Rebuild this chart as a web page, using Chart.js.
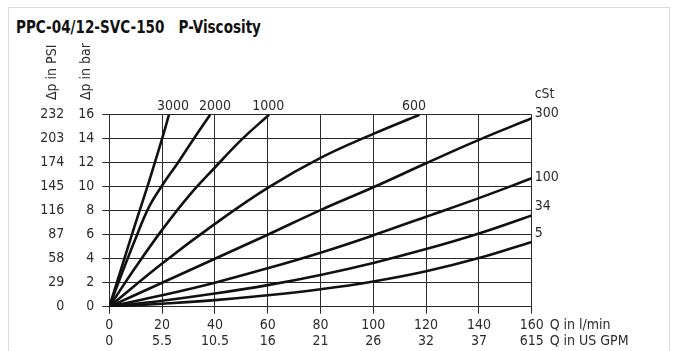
<!DOCTYPE html>
<html>
<head>
<meta charset="utf-8">
<script src="https://cdn.jsdelivr.net/npm/chart.js@4/dist/chart.umd.min.js"></script>
<style>
  html, body { margin: 0; padding: 0; background: #fff; }
  #wrap { position: relative; width: 678px; height: 351px; overflow: hidden; }
  #frame { position: absolute; left: 8px; top: 7px; width: 662px; height: 400px; border: 1px solid #dadada; box-sizing: border-box; }
  #title { position: absolute; left: 16px; top: 17px; font: bold 17.5px 'DejaVu Sans Condensed', sans-serif; color: #111; white-space: pre; transform: scaleX(0.86); transform-origin: 0 0; }
  canvas { position: absolute; left: 0; top: 0; }
</style>
</head>
<body>
<div id="wrap">
  <div id="frame"></div>
  <div id="title">PPC-04/12-SVC-150   P-Viscosity</div>
  <canvas id="chart" width="678" height="351"></canvas>
</div>
<script>
// tick labels
const flowLmin = [0, 20, 40, 60, 80, 100, 120, 140, 160];
const flowGpm = ['0', '5.5', '10.5', '16', '21', '26', '32', '37', '615'];
const barTicks = [0, 2, 4, 6, 8, 10, 12, 14, 16];
const psiTicks = [0, 29, 58, 87, 116, 145, 174, 203, 232];

// curves (Q in l/min, dp in bar)
const q3000 = [0, 5, 10, 15, 20, 22.6];
const dp3000 = [0, 3.5, 7, 10.4, 14, 16];
const q2000 = [0, 5, 10, 15, 20, 26, 32, 38.2];
const dp2000 = [0, 2.9, 5.7, 8.3, 10.1, 12, 14, 16];
const q1000 = [0, 10, 20, 30, 40, 50, 60.5];
const dp1000 = [0, 3.3, 6.4, 9.2, 11.6, 13.9, 16];
const q600 = [0, 20, 40, 60, 80, 100, 117.5];
const dp600 = [0, 3.6, 6.9, 9.9, 12.4, 14.4, 16];
const qLow = [0, 20, 40, 60, 80, 100, 120, 140, 160];
const dp300 = [0, 2, 4, 6, 8.05, 9.95, 11.95, 13.9, 15.7];
const dp100 = [0, 0.95, 2.0, 3.2, 4.5, 5.95, 7.5, 9.05, 10.7];
const dp34 = [0, 0.5, 1.1, 1.8, 2.65, 3.65, 4.8, 6.1, 7.6];
const dp5 = [0, 0.25, 0.55, 0.95, 1.45, 2.1, 2.95, 4.05, 5.4];

const FONT_FAMILY = "'DejaVu Sans Condensed', sans-serif";
const TEXT = '#2b2b2b';
const GRID = '#2a2a2a';

function pts(xs, ys) {
  return xs.map((x, i) => ({ x, y: ys[i] }));
}

const curves = [
  ['3000', q3000, dp3000],
  ['2000', q2000, dp2000],
  ['1000', q1000, dp1000],
  ['600', q600, dp600],
  ['300', qLow, dp300],
  ['100', qLow, dp100],
  ['34', qLow, dp34],
  ['5', qLow, dp5]
];

const annotate = {
  id: 'annotate',
  afterDraw(chart) {
    const { ctx, chartArea: a, scales: { x, y } } = chart;
    ctx.save();
    ctx.fillStyle = TEXT;
    ctx.font = '14px ' + FONT_FAMILY;
    ctx.textBaseline = 'middle';

    // viscosity labels above the plot
    ctx.textAlign = 'center';
    [['3000', 24.1], ['2000', 40], ['1000', 60.2], ['600', 115.4]].forEach(([t, v]) => {
      ctx.fillText(t, x.getPixelForValue(v), a.top - 8);
    });

    // viscosity labels at the right
    ctx.textAlign = 'left';
    ctx.fillText('cSt', a.right + 3, a.top - 20);
    [['300', 16.1], ['100', 10.8], ['34', 8.4], ['5', 6.1]].forEach(([t, v]) => {
      ctx.fillText(t, a.right + 3, y.getPixelForValue(v));
    });

    // x axis titles
    ctx.fillText('Q in l/min', a.right + 18, a.bottom + 18.5);
    ctx.fillText('Q in US GPM', a.right + 18, a.bottom + 35);

    // y axis titles (rotated)
    [['\u0394p in PSI', 52.5], ['\u0394p in bar', 86.7]].forEach(([t, px]) => {
      ctx.save();
      ctx.translate(px, 100);
      ctx.rotate(-Math.PI / 2);
      ctx.textAlign = 'left';
      ctx.fillText(t, 0, 0);
      ctx.restore();
    });
    ctx.restore();
  }
};

new Chart(document.getElementById('chart'), {
  type: 'line',
  data: {
    datasets: curves.map(([label, xs, ys]) => ({
      label: label + ' cSt',
      data: pts(xs, ys),
      borderColor: '#111',
      borderWidth: 2.6,
      pointRadius: 0,
      tension: 0.4,
      fill: false
    }))
  },
  options: {
    responsive: false,
    animation: false,
    layout: { padding: { left: 29.3, top: 114.7, right: 146.3, bottom: 0 } },
    plugins: { legend: { display: false }, tooltip: { enabled: false } },
    scales: {
      x: {
        type: 'linear',
        min: 0,
        max: 160,
        afterBuildTicks: s => { s.ticks = flowLmin.map(v => ({ value: v })); },
        afterFit: s => { s.height = 44.3; },
        grid: { color: GRID, lineWidth: 1, tickLength: 7 },
        border: { color: GRID, width: 1 },
        ticks: {
          autoSkip: false,
          maxRotation: 0,
          padding: 3,
          color: TEXT,
          font: { family: FONT_FAMILY, size: 14, lineHeight: 1.19 },
          callback: (v) => {
            const i = flowLmin.indexOf(v);
            return [String(v), flowGpm[i]];
          }
        }
      },
      y: {
        type: 'linear',
        position: 'left',
        weight: 0,
        min: 0,
        max: 16,
        afterBuildTicks: s => { s.ticks = barTicks.map(v => ({ value: v })); },
        afterFit: s => { s.width = 40; },
        grid: { color: GRID, lineWidth: 1, tickLength: 7 },
        border: { color: GRID, width: 1 },
        ticks: {
          padding: 8,
          color: TEXT,
          font: { family: FONT_FAMILY, size: 14 }
        }
      },
      psi: {
        type: 'linear',
        position: 'left',
        weight: 1,
        min: 0,
        max: 232,
        afterBuildTicks: s => { s.ticks = psiTicks.map(v => ({ value: v })); },
        afterFit: s => { s.width = 40; },
        grid: { display: false, drawTicks: false, tickLength: 0 },
        border: { display: false },
        ticks: {
          padding: 5,
          color: TEXT,
          font: { family: FONT_FAMILY, size: 14 }
        }
      }
    }
  },
  plugins: [annotate]
});
</script>
</body>
</html>
